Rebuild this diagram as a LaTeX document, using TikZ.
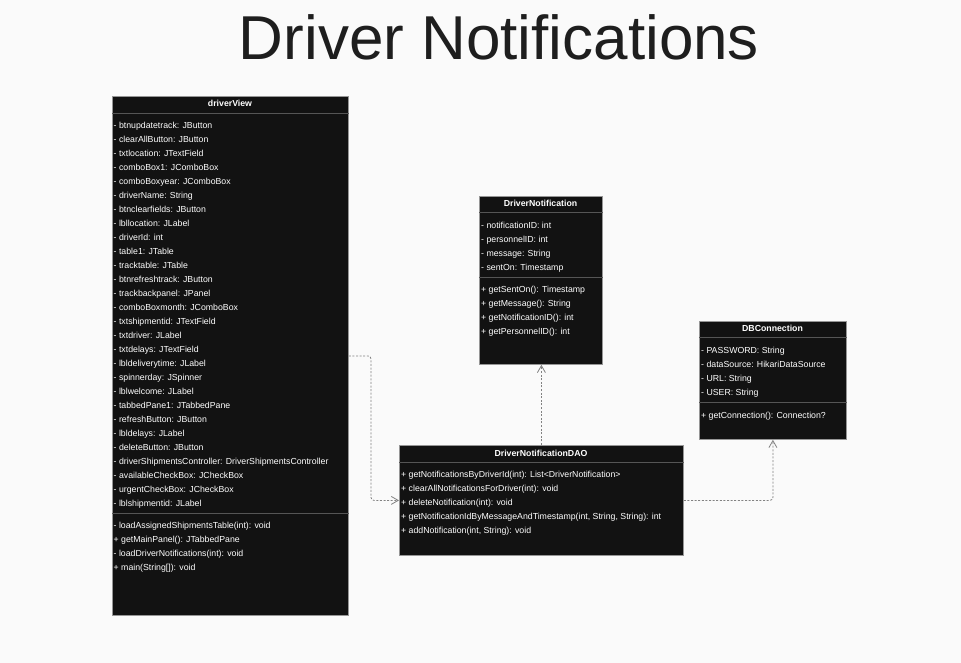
\documentclass[tikz,border=0pt]{standalone}
\usepackage{fontspec}
\setmainfont{Liberation Sans}
\usetikzlibrary{arrows.meta,calc}
\definecolor{bg}{RGB}{250,250,250}
\definecolor{boxfill}{RGB}{18,18,18}
\definecolor{boxline}{RGB}{150,150,150}
\definecolor{divc}{RGB}{85,85,85}
\definecolor{conn}{RGB}{130,130,130}
\definecolor{titlec}{RGB}{30,30,30}
\begin{document}
\begin{tikzpicture}[x=1pt,y=-1pt,
 classbox/.style={draw=boxline, fill=boxfill, line width=0.8pt, inner sep=0pt, anchor=north west},
 divline/.style={draw=divc, line width=0.8pt},
 mem/.style={anchor=base west, inner sep=0pt, text=white, font=\fontsize{8.75}{10}\selectfont},
 head/.style={anchor=base, inner sep=0pt, text=white, font=\fontsize{8.75}{10}\selectfont\bfseries},
 dep/.style={draw=conn, line width=0.8pt, dash pattern=on 2pt off 1.6pt, rounded corners=3pt, -{Straight Barb[length=7pt,width=8pt]}}]
\fill[bg] (0,0) rectangle (961,663);
\useasboundingbox (0,0) rectangle (961,663);

% title
\node[anchor=base, inner sep=0pt, text=titlec, font=\fontsize{62}{70}\selectfont] (title) at (499,60) {Driver Notifications};

% driverView
\node[classbox, minimum width=236pt, minimum height=519pt] (dv) at (112,96) {};
\node[head] (dvh) at (230,107) {driverView};
\draw[divline] (dv.west |- 0,113) -- (dv.east |- 0,113);
\foreach \t [count=\i] in {{btnupdatetrack: JButton},{clearAllButton: JButton},{txtlocation: JTextField},{comboBox1: JComboBox},{comboBoxyear: JComboBox},{driverName: String},{btnclearfields: JButton},{lbllocation: JLabel},{driverId: int},{table1: JTable},{tracktable: JTable},{btnrefreshtrack: JButton},{trackbackpanel: JPanel},{comboBoxmonth: JComboBox},{txtshipmentid: JTextField},{txtdriver: JLabel},{txtdelays: JTextField},{lbldeliverytime: JLabel},{spinnerday: JSpinner},{lblwelcome: JLabel},{tabbedPane1: JTabbedPane},{refreshButton: JButton},{lbldelays: JLabel},{deleteButton: JButton},{driverShipmentsController: DriverShipmentsController},{availableCheckBox: JCheckBox},{urgentCheckBox: JCheckBox},{lblshipmentid: JLabel}}
  \node[mem] (dva\i) at (113.5,{128.2+14*(\i-1)}) {- \t};
\draw[divline] (dv.west |- 0,513) -- (dv.east |- 0,513);
\foreach \t [count=\i] in {{- loadAssignedShipmentsTable(int): void},{+ getMainPanel(): JTabbedPane},{- loadDriverNotifications(int): void},{+ main(String[]): void}}
  \node[mem] (dvm\i) at (113.5,{528.2+14*(\i-1)}) {\t};

% DriverNotification
\node[classbox, minimum width=123pt, minimum height=168pt] (dn) at (479,196) {};
\node[head] (dnh) at (540.5,206.5) {DriverNotification};
\draw[divline] (dn.west |- 0,212) -- (dn.east |- 0,212);
\foreach \t [count=\i] in {{notificationID: int},{personnelID: int},{message: String},{sentOn: Timestamp}}
  \node[mem] (dna\i) at (481,{228.2+14*(\i-1)}) {- \t};
\draw[divline] (dn.west |- 0,277) -- (dn.east |- 0,277);
\foreach \t [count=\i] in {{getSentOn(): Timestamp},{getMessage(): String},{getNotificationID(): int},{getPersonnelID(): int}}
  \node[mem] (dnm\i) at (481,{292.2+14*(\i-1)}) {+ \t};

% DBConnection
\node[classbox, minimum width=147pt, minimum height=118pt] (db) at (699,321) {};
\node[head] (dbh) at (772.5,331.3) {DBConnection};
\draw[divline] (db.west |- 0,337.5) -- (db.east |- 0,337.5);
\foreach \t [count=\i] in {{PASSWORD: String},{dataSource: HikariDataSource},{URL: String},{USER: String}}
  \node[mem] (dba\i) at (701,{353+14*(\i-1)}) {- \t};
\draw[divline] (db.west |- 0,402.5) -- (db.east |- 0,402.5);
\node[mem] (dbm1) at (701,418) {+ getConnection(): Connection?};

% DriverNotificationDAO
\node[classbox, minimum width=284pt, minimum height=110pt] (dao) at (399,445) {};
\node[head] (daoh) at (541,456) {DriverNotificationDAO};
\draw[divline] (dao.west |- 0,462) -- (dao.east |- 0,462);
\foreach \t [count=\i] in {{getNotificationsByDriverId(int): List<DriverNotification>},{clearAllNotificationsForDriver(int): void},{deleteNotification(int): void},{getNotificationIdByMessageAndTimestamp(int, String, String): int},{addNotification(int, String): void}}
  \node[mem] (daom\i) at (401,{477.2+14*(\i-1)}) {+ \t};

% connectors
\coordinate (bend) at (371,420);
\draw[dep] (dv.east) -| (bend) |- (dao.west);
\draw[dep] (dao.north) -- (dao.north |- dn.south);
\draw[dep] (dao.east) -| (db.south);
\end{tikzpicture}
\end{document}
